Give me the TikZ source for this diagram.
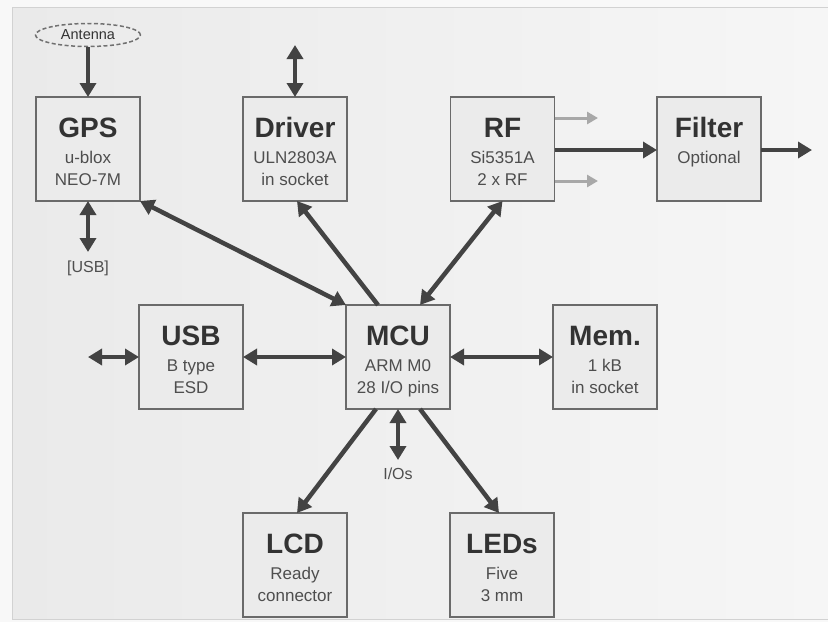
\documentclass[tikz,border=0pt]{standalone}
\usepackage{fontspec}
\setmainfont{Liberation Sans}
\usetikzlibrary{arrows.meta,shapes.geometric}
\definecolor{bgl}{HTML}{EAEAEA}
\definecolor{bgr}{HTML}{F6F6F6}
\definecolor{outer}{HTML}{F8F8F8}
\definecolor{frm}{HTML}{D2D2D2}
\definecolor{boxfill}{HTML}{EBEBEB}
\definecolor{boxdraw}{HTML}{6A6A6A}
\definecolor{arr}{HTML}{434343}
\definecolor{arrlight}{HTML}{A8A8A8}
\definecolor{ttl}{HTML}{333333}
\definecolor{subc}{HTML}{4E4E4E}
\definecolor{antc}{HTML}{707070}
\newcommand\blkdraw[6]{%
  \node[blk] (#1) at (#2,#3) {};
  \node[ttlstyle] (#1-t) at ([yshift=12pt]#1.center) {#4};
  \node[substyle] (#1-a) at ([yshift=-14.5pt]#1.center) {#5};
  \node[substyle] (#1-b) at ([yshift=-36pt]#1.center) {#6};
}
\begin{document}
\begin{tikzpicture}[x=1pt,y=-1pt,
  blk/.style={draw=boxdraw, line width=1.4pt, fill=boxfill, minimum width=104pt, minimum height=104pt, inner sep=0pt, outer sep=0pt},
  ttlstyle/.style={text=ttl, font=\fontsize{28}{30}\selectfont\bfseries, anchor=base, inner sep=0pt},
  substyle/.style={text=subc, font=\fontsize{17}{19}\selectfont, anchor=base, inner sep=0pt},
  lblstyle/.style={text=subc, font=\fontsize{16}{18}\selectfont, inner sep=0pt},
  conn/.style={draw=arr, line width=4.5pt, >={Triangle[length=14pt,width=16pt]}},
  connlight/.style={draw=arrlight, line width=3pt, -{Triangle[length=11pt,width=12pt]}},
  antstyle/.style={ellipse, draw=antc, dash pattern=on 4pt off 2.5pt, line width=1.5pt, minimum width=105pt, minimum height=23pt, inner sep=0pt, text=ttl, font=\fontsize{14.5}{15}\selectfont}
]
\useasboundingbox (0,0) rectangle (828,622);
\fill[outer] (0,0) rectangle (828,622);
\shade[left color=bgl, right color=bgr] (12,7) rectangle (828,619);
\draw[frm, line width=1pt] (828,7) -- (12,7) -- (12,619) -- (828,619);

% blocks
\blkdraw{gps}{88}{149}{GPS}{u-blox}{NEO-7M}
\blkdraw{drv}{295}{149}{Driver}{ULN2803A}{in socket}
\blkdraw{rf}{502.5}{149}{RF}{Si5351A}{2 x RF}
\node[blk] (flt) at (709,149) {};
\node[ttlstyle] (flt-t) at ([yshift=12pt]flt.center) {Filter};
\node[substyle] (flt-a) at ([yshift=-14.5pt]flt.center) {Optional};
\blkdraw{usb}{191}{357}{USB}{B type}{ESD}
\blkdraw{mcu}{398}{357}{MCU}{ARM M0}{28 I/O pins}
\blkdraw{mem}{605}{357}{Mem.}{1 kB}{in socket}
\blkdraw{lcd}{295}{565}{LCD}{Ready}{connector}
\blkdraw{led}{502}{565}{LEDs}{Five}{3 mm}

% antenna
\node[antstyle] (ant) at (88,35) {Antenna};

% free ends and labels
\coordinate (drvtop) at (295,45);
\coordinate (gpsusb) at (88,252);
\node[lblstyle] (usblbl) at (88,268) {[USB]};
\coordinate (usbleft) at (88,357);
\coordinate (ioend) at (398,460);
\node[lblstyle] (iolbl) at (398,474) {I/Os};
\coordinate (rfo1) at (598,118);
\coordinate (rfo2) at (598,181);
\coordinate (fout) at (812,150);

% connectors
\draw[conn,->] (ant) -- (gps);
\draw[conn,<->] (drvtop) -- (drv.north);
\draw[conn,<->] (gps.south) -- (gpsusb);
\draw[conn,<->] (usbleft) -- (usb.west);
\draw[conn,<->] (usb.east) -- (mcu.west);
\draw[conn,<->] (mcu.east) -- (mem.west);
\draw[conn,<->] (gps.south east) -- (mcu.north west);
\draw[conn,->] ([xshift=-20pt]mcu.north) -- ([xshift=2pt]drv.south);
\draw[conn,<->] ([xshift=22pt]mcu.north) -- (rf.south);
\draw[conn,->] ([xshift=-22pt]mcu.south) -- ([xshift=2pt]lcd.north);
\draw[conn,->] ([xshift=22pt]mcu.south) -- ([xshift=-3pt]led.north);
\draw[conn,<->] (mcu.south) -- (ioend);
\draw[conn,->] ([yshift=-1pt]rf.east) -- ([yshift=-1pt]flt.west);
\draw[conn,->] ([yshift=-1pt]flt.east) -- (fout);
\draw[connlight] ([yshift=31pt]rf.east) -- (rfo1);
\draw[connlight] ([yshift=-32pt]rf.east) -- (rfo2);
\end{tikzpicture}
\end{document}
